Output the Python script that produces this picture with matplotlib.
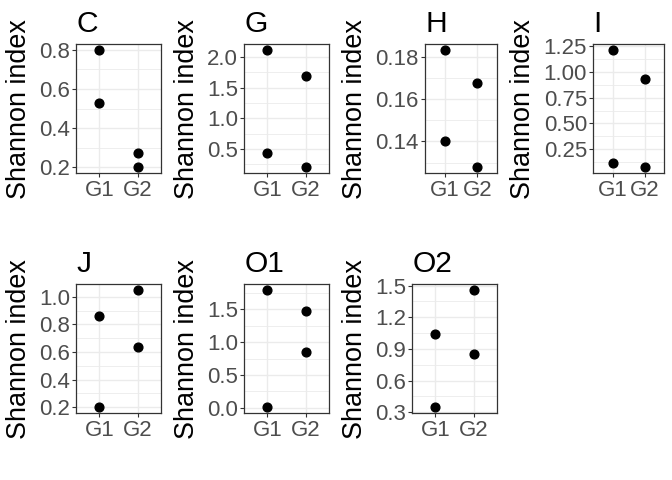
import matplotlib
matplotlib.use('Agg')
import matplotlib.pyplot as plt
from matplotlib.ticker import FixedLocator, AutoMinorLocator, FormatStrFormatter

plt.rcParams['font.family'] = ['Liberation Sans', 'DejaVu Sans']

groups = ['G1', 'G2']
panel_names = ['C', 'G', 'H', 'I', 'J', 'O1', 'O2']

# Shannon index values per panel (G1, G2)
C_g1 = [0.800, 0.528]
C_g2 = [0.274, 0.200]
G_g1 = [2.115, 0.440]
G_g2 = [1.686, 0.199]
H_g1 = [0.1833, 0.1400]
H_g2 = [0.1675, 0.1277]
I_g1 = [1.217, 0.116]
I_g2 = [0.931, 0.070]
J_g1 = [0.859, 0.198]
J_g2 = [1.051, 0.634]
O1_g1 = [1.797, 0.005]
O1_g2 = [1.474, 0.846]
O2_g1 = [1.038, 0.345]
O2_g2 = [1.459, 0.852]

# y tick values per panel
C_ticks = [0.2, 0.4, 0.6, 0.8]
G_ticks = [0.5, 1.0, 1.5, 2.0]
H_ticks = [0.14, 0.16, 0.18]
I_ticks = [0.25, 0.50, 0.75, 1.00, 1.25]
J_ticks = [0.2, 0.4, 0.6, 0.8, 1.0]
O1_ticks = [0.0, 0.5, 1.0, 1.5]
O2_ticks = [0.3, 0.6, 0.9, 1.2, 1.5]

panels = [
    ('C', C_g1, C_g2, C_ticks, '%.1f'),
    ('G', G_g1, G_g2, G_ticks, '%.1f'),
    ('H', H_g1, H_g2, H_ticks, '%.2f'),
    ('I', I_g1, I_g2, I_ticks, '%.2f'),
    ('J', J_g1, J_g2, J_ticks, '%.1f'),
    ('O1', O1_g1, O1_g2, O1_ticks, '%.1f'),
    ('O2', O2_g1, O2_g2, O2_ticks, '%.1f'),
]

# panel rectangles in pixels: left, top, right, bottom ; and cell left
rects = [
    (76.3, 44, 160.7, 173.3, 0),
    (244.3, 44, 329.0, 173.3, 168),
    (425.3, 44, 496.7, 173.3, 336),
    (593.3, 44, 664.3, 173.3, 504),
    (76.3, 284, 160.7, 413.3, 0),
    (244.3, 284, 329.0, 413.3, 168),
    (412.3, 284, 496.7, 413.3, 336),
]

W, H = 672, 480
fig = plt.figure(figsize=(W / 100, H / 100), dpi=100)

for (name, g1, g2, ticks, fmt), (l, t, r, b, cl) in zip(panels, rects):
    ax = fig.add_axes([l / W, 1 - b / H, (r - l) / W, (b - t) / H])
    xs = [groups[0]] * len(g1) + [groups[1]] * len(g2)
    ys = list(g1) + list(g2)
    ax.plot(xs, ys, linestyle='none', marker='o', color='black',
            markersize=6.3, zorder=3)
    lo, hi = min(ys), max(ys)
    pad = 0.05 * (hi - lo)
    ax.set_ylim(lo - pad, hi + pad)
    ax.set_xlim(-0.6, 1.6)
    ax.yaxis.set_major_locator(FixedLocator(ticks))
    ax.yaxis.set_major_formatter(FormatStrFormatter(fmt))
    ax.yaxis.set_minor_locator(AutoMinorLocator(2))
    ax.set_axisbelow(True)
    ax.grid(which='major', color='#EBEBEB', linewidth=1.0)
    ax.grid(which='minor', axis='y', color='#EBEBEB', linewidth=0.6)
    for s in ax.spines.values():
        s.set_color('#333333')
        s.set_linewidth(0.9)
    ax.tick_params(which='major', color='#333333', length=2.75, width=0.8,
                   labelcolor='#4D4D4D', labelsize=16, pad=1.8)
    ax.tick_params(which='minor', length=0)
    ax.set_title(name, loc='left', fontsize=21.6, pad=8.6, color='black')
    fig.text((cl + 19.5) / W, 1 - ((t + b) / 2) / H, 'Shannon index',
             rotation=90, ha='center', va='center', fontsize=19.4,
             color='black')

fig.savefig('out.png', dpi=100, facecolor='white')
